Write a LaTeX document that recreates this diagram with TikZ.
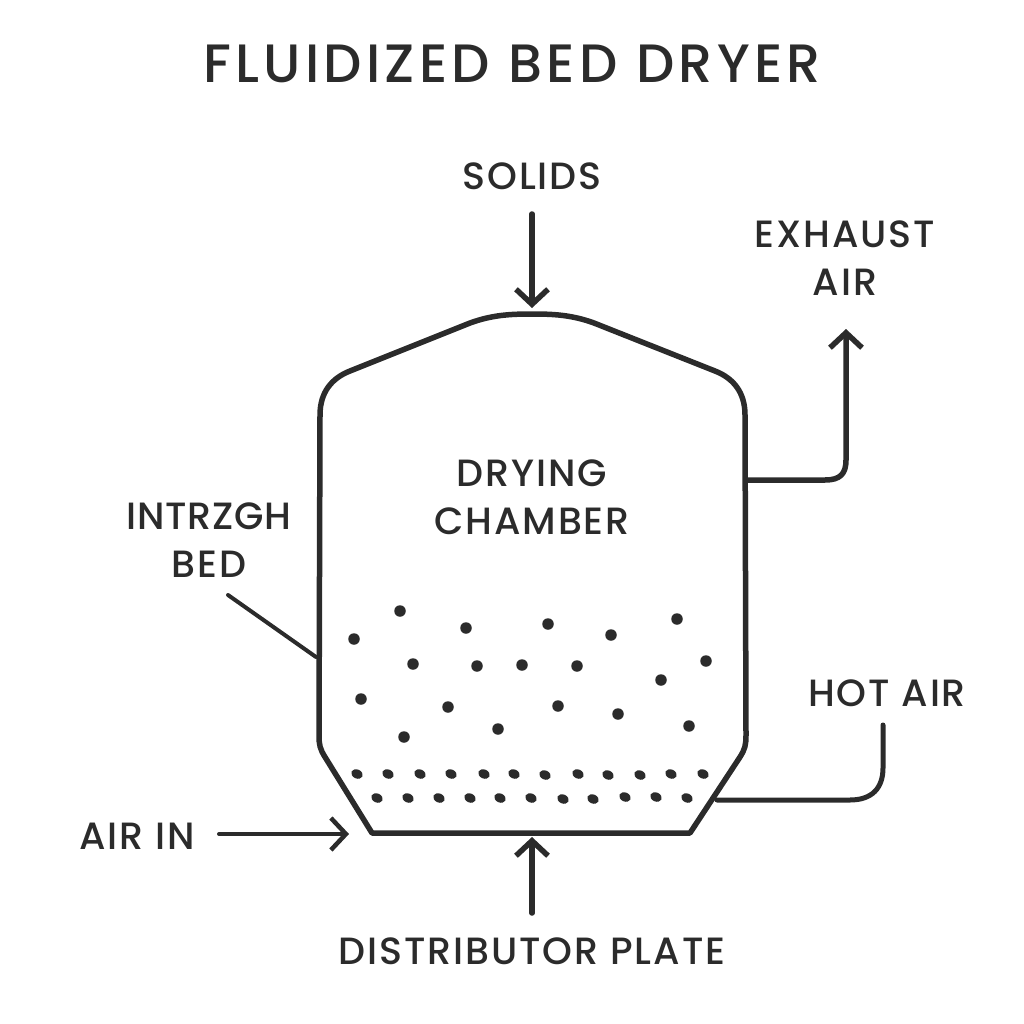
\documentclass[tikz,border=0pt]{standalone}
\usepackage{fontspec}
\setmainfont{Poppins}[UprightFont=* Medium]
\usetikzlibrary{arrows.meta,shapes.geometric}
\definecolor{ink}{HTML}{2B2B2B}
\newfontfamily\labfont{Poppins}[UprightFont=* Medium,LetterSpace=5]
\newfontfamily\tightfont{Poppins}[UprightFont=* Medium,LetterSpace=2]
\newfontfamily\titlefont{Poppins}[UprightFont=* Medium,LetterSpace=8]
\tikzset{
 lab/.style={text=ink,align=center,inner sep=0pt,font=\labfont\fontsize{38}{48}\selectfont},
 wall/.style={draw=ink,line width=5.5pt,line join=round,line cap=round},
 flow/.style={draw=ink,line width=5.5pt,line cap=round,line join=round,-{Straight Barb[length=15pt,width=32pt,line width=5.5pt]}},
 thinflow/.style={draw=ink,line width=4pt,line cap=round,line join=round,-{Straight Barb[length=15pt,width=32pt,line width=4.5pt]}},
 pipe/.style={draw=ink,line width=5pt,line cap=round,line join=round},
 leader/.style={draw=ink,line width=4pt,line cap=round},
 dotb/.style={fill=ink,draw=none,circle,inner sep=0pt,minimum size=11.5pt},
 dots/.style={fill=ink,draw=none,ellipse,inner sep=0pt,minimum width=12pt,minimum height=9pt,rotate=-25},
}
\begin{document}
\begin{tikzpicture}[x=1pt,y=-1pt]
\useasboundingbox (0,0) rectangle (1024,1024);
\node[lab,font=\titlefont\fontsize{54}{60}\selectfont] (title) at (512,64) {FLUIDIZED BED DRYER};
\node[lab] (solids) at (532,176) {SOLIDS};
\node[lab] (exhaust) at (845,258) {EXHAUST\\AIR};
\node[lab] (chamber) at (532,497) {DRYING\\CHAMBER};
\node[lab] (intrzgh) at (209,540) {{\tightfont INTRZGH}\\BED};
\node[lab] (hotair) at (887,693) {HOT AIR};
\node[lab] (airin) at (137,836) {AIR IN};
\node[lab] (plate) at (532,951) {DISTRIBUTOR PLATE};

\draw[wall] (372,833) -- (325,757) .. controls (320,749) and (319,745) .. (319,735)
 -- (320,415) .. controls (320,392) and (332,378) .. (350,371)
 -- (470,323) .. controls (492,315) and (510,314) .. (532,314)
 .. controls (554,314) and (572,315) .. (594,323)
 -- (715,371) .. controls (733,378) and (745,392) .. (745,415)
 -- (746,735) .. controls (746,745) and (745,749) .. (740,757)
 -- (690,833) -- cycle;

\coordinate (solidsTail) at (532,214);
\coordinate (solidsTip) at (532,308);
\draw[flow] (solidsTail) -- (solidsTip);
\coordinate (exhStart) at (747,480);
\coordinate (exhTip) at (846,329);
\draw[flow] (exhStart) -- (825,480) .. controls (840,480) and (846,474) .. (846,460) -- (exhTip);
\coordinate (hotStart) at (717,800);
\coordinate (hotEnd) at (883,725);
\draw[pipe] (hotStart) -- (850,800) .. controls (872,800) and (883,788) .. (883,768) -- (hotEnd);
\coordinate (leadStart) at (228,595);
\coordinate (leadEnd) at (316,657);
\draw[leader] (leadStart) -- (leadEnd);
\coordinate (airTail) at (219,834);
\coordinate (airTip) at (349,834);
\draw[thinflow] (airTail) -- (airTip);
\coordinate (plateTail) at (532,913);
\coordinate (plateTip) at (532,837);
\draw[flow] (plateTail) -- (plateTip);

\foreach \x/\y in {400/611,354/639,466/628,548/624,611/635,677/619,413/664,706/661,661/680,361/699,448/707,558/706,618/714,689/726,404/737,498/729,477/666,522/665,577/666}
  \node[dotb] at (\x,\y) {};
\foreach \x/\y in {357/774,388/774,420/774,451/774,484/774,514/774,545/775,578/774,608/775,640/775,671/774,703/774,377/798,408/798,439/798,470/798,500/798,531/798,563/799,593/799,625/797,656/797,687/798}
  \node[dots] at (\x,\y) {};
\end{tikzpicture}
\end{document}
